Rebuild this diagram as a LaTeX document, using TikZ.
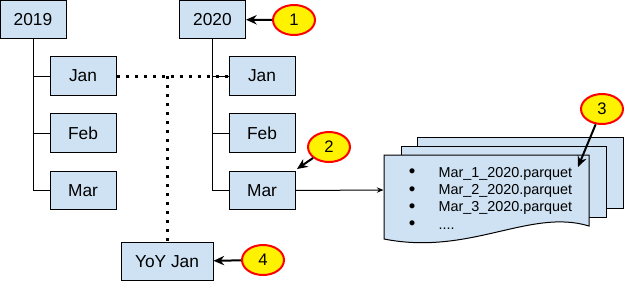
\documentclass[tikz,border=0pt]{standalone}
\usepackage{fontspec}
\setmainfont{Liberation Sans}
\usetikzlibrary{shapes.geometric,arrows.meta}
\definecolor{boxblue}{HTML}{CFE2F3}
\newcommand{\bigbul}{\raisebox{-0.5pt}{\fontsize{14}{13}\selectfont •}}
\begin{document}
\begin{tikzpicture}[x=0.75pt,y=-0.75pt,
  box/.style={draw, fill=boxblue, line width=0.75pt, inner sep=0pt,
    font=\fontsize{13}{15}\selectfont, minimum width=49.5pt, minimum height=28.75pt},
  callout/.style={ellipse, draw=red, fill=yellow, line width=1.5pt, inner sep=0pt,
    minimum width=31.5pt, minimum height=22.5pt, font=\fontsize{12.5}{15}\selectfont},
  callarrow/.style={line width=1.5pt, -{Stealth[length=8pt,width=7pt]}},
  tree/.style={line width=0.75pt},
  dotline/.style={line width=2.25pt, dash pattern=on 2.25pt off 4.5pt},
  flow/.style={line width=0.75pt, -{Stealth[length=5pt,width=4pt]}},
  docpage/.style={draw, fill=boxblue, line width=0.75pt}
]
\useasboundingbox (0,0) rectangle (624,282);

% year boxes
\node[box] (y2019) at (33,19.5) {2019};
\node[box] (y2020) at (212.5,19.5) {2020};
% month boxes
\node[box] (jan19) at (83,76) {Jan};
\node[box] (feb19) at (83,133) {Feb};
\node[box] (mar19) at (83,190.5) {Mar};
\node[box] (jan20) at (262,76) {Jan};
\node[box] (feb20) at (262,133) {Feb};
\node[box] (mar20) at (262,190.5) {Mar};
\node[box, minimum width=69pt] (yoy) at (167,261.5) {YoY Jan};

% tree lines
\draw[tree] (y2019.south) -- (y2019.south |- mar19.west) -- (mar19.west);
\draw[tree] (y2019.south |- jan19.west) -- (jan19.west);
\draw[tree] (y2019.south |- feb19.west) -- (feb19.west);
\draw[tree] (y2020.south) -- (y2020.south |- mar20.west) -- (mar20.west);
\draw[tree] (y2020.south |- jan20.west) -- (jan20.west);
\draw[tree] (y2020.south |- feb20.west) -- (feb20.west);

% dotted links
\draw[dotline] (jan19.east) -- (jan20.west);
\draw[dotline] (yoy.north |- jan19.east) -- (yoy.north);

% document stack
\draw[docpage] (417,137) rectangle (623,208);
\draw[docpage] (401,146) rectangle (606,217);
\draw[docpage] (384,155) -- (589,155) -- (589,226)
  .. controls (530,208) and (470,256) .. (384,239) -- cycle;
\coordinate (docin) at (383.5,190);
\node[anchor=base west, inner sep=0pt, font=\fontsize{10.8}{13}\selectfont] (files) at (408.5,177)
  {\begin{tabular}[t]{@{}l@{\hspace{17.4pt}}l@{}}
   \bigbul & Mar\_1\_2020.parquet\\
   \bigbul & Mar\_2\_2020.parquet\\
   \bigbul & Mar\_3\_2020.parquet\\
   \bigbul & ....
   \end{tabular}};

\draw[flow] (mar20.east) -- (docin);

% callouts
\node[callout] (c1) at (294,20) {1};
\node[callout] (c2) at (329,147) {2};
\node[callout] (c3) at (602,109) {3};
\node[callout] (c4) at (263,260) {4};
\coordinate (t2) at (297,169);
\coordinate (t3) at (578,167);

\draw[callarrow] (c1) -- (y2020);
\draw[callarrow] (c2) -- (t2);
\draw[callarrow] (c3) -- (t3);
\draw[callarrow] (c4) -- (yoy);
\end{tikzpicture}
\end{document}
